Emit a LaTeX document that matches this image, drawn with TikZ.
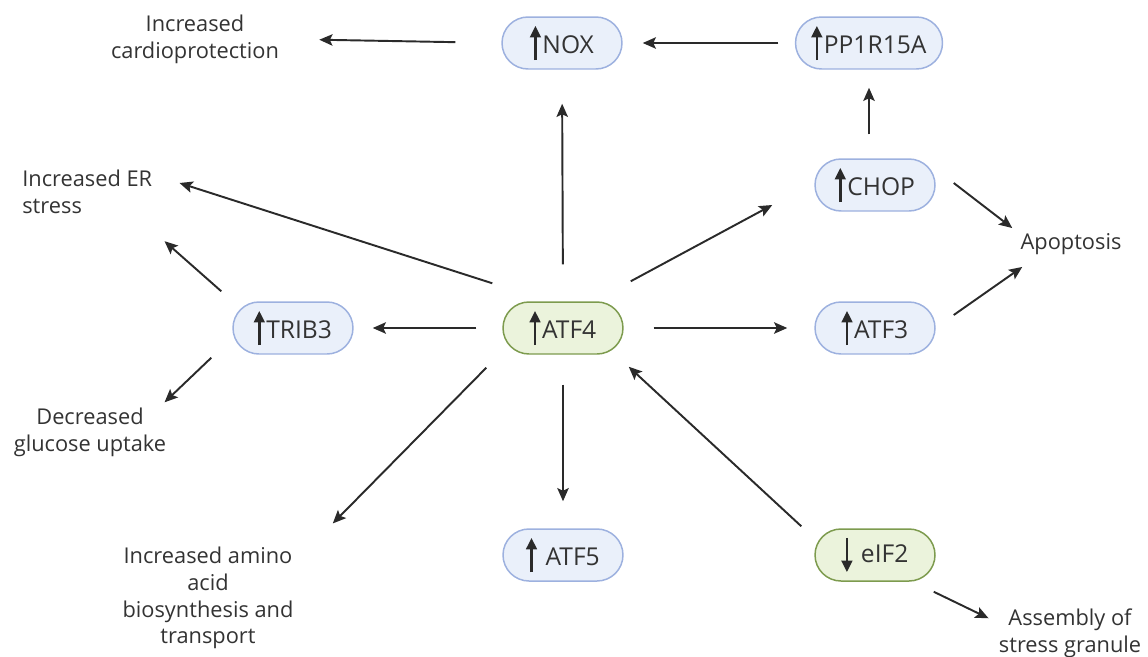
\documentclass[tikz,border=0pt]{standalone}
\usepackage{fontspec}
\setmainfont{Open Sans}
\usetikzlibrary{arrows.meta, calc}
\definecolor{gnblue}{HTML}{EAF0FA}
\definecolor{gnblueline}{HTML}{9DB1DF}
\definecolor{gngreen}{HTML}{EBF3DC}
\definecolor{gngreenline}{HTML}{7D9B4E}
\definecolor{gntext}{HTML}{333333}
\definecolor{gnarrow}{HTML}{2A2A2A}

% small up/down marks inside the gene boxes
\newcommand{\upar}{\tikz[baseline=0pt]\draw[gnarrow, line width=1.5pt, -{Triangle[length=6.5pt,width=6pt]}] (0,-4pt) -- (0,15.5pt);\kern1pt}
\newcommand{\dnar}{\tikz[baseline=0pt]\draw[gnarrow, line width=1.5pt, -{Triangle[length=6.5pt,width=6pt]}] (0,14pt) -- (0,-5.5pt);}

\begin{document}
\begin{tikzpicture}[x=0.02cm, y=-0.02cm,
  gene/.style={draw=gnblueline, fill=gnblue, line width=0.85pt, rounded corners=0.52cm,
    minimum width=2.4cm, minimum height=1.04cm, inner sep=0pt, text=gntext,
    font=\fontsize{14}{16}\selectfont},
  genegreen/.style={gene, draw=gngreenline, fill=gngreen},
  lbl/.style={inner sep=0pt, text=gntext, align=center, font=\fontsize{12.4}{15.3}\selectfont},
  arr/.style={draw=gnarrow, line width=1.1pt, -{Stealth[length=7.5pt,width=6.5pt,inset=1.5pt]}}]
\useasboundingbox (0,0) rectangle (1148,656);

% Genes
\node[gene] (nox) at (562,43) {\upar NOX};
\node[gene, minimum width=2.94cm] (pp) at (869,43) {\upar PP1R15A};
\node[gene] (chop) at (875,185) {\upar CHOP};
\node[genegreen] (atf4) at (563,328) {\upar ATF4};
\node[gene] (trib3) at (293,328) {\upar TRIB3};
\node[gene] (atf3) at (875,328) {\upar ATF3};
\node[gene] (atf5) at (563,555) {\upar\hspace{4pt}ATF5};
\node[genegreen] (eif2) at (875,555) {\dnar\hspace{5pt}eIF2};

% Outcomes
\node[lbl] (cardio) at (195,39) {Increased\\cardioprotection};
\node[lbl, align=left, anchor=west] (er) at (22,192) {Increased ER\\stress};
\node[lbl] (apop) at (1071,244) {Apoptosis};
\node[lbl] (gluc) at (90,432) {Decreased\\glucose uptake};
\node[lbl] (amino) at (208,598) {Increased amino\\acid\\biosynthesis and\\transport};
\node[lbl] (assem) at (1070,633) {Assembly of\\stress granule};

% ATF4 targets
\draw[arr, shorten <=0.74cm, shorten >=0.68cm] (atf4.north) -- (nox.south);
\draw[arr, shorten <=0.52cm, shorten >=0.38cm] (atf4.west) -- (trib3.east);
\draw[arr, shorten <=0.6cm, shorten >=0.54cm] (atf4.east) -- (atf3.west);
\draw[arr, shorten <=0.6cm, shorten >=0.54cm] (atf4.south) -- (atf5.north);
\draw[arr] ($(atf4.north east)+(7,-20)$) -- ($(chop.west)+(-42,20)$);
\draw[arr] ($(atf4.north west)+(-10,-18)$) -- ($(er.east)+(27,-9)$);
\draw[arr] ($(atf4.south west)+(-16,13)$) -- ($(amino.north east)+(39,-23)$);

% Top row
\draw[arr, shorten <=0.92cm, shorten >=0.8cm] (nox.west) -- (cardio.east);
\draw[arr, shorten <=0.33cm, shorten >=0.4cm] (pp.west) -- (nox.east);
\draw[arr, shorten <=0.48cm, shorten >=0.36cm] (pp |- chop.north) -- (pp.south);

% Apoptosis
\draw[arr] ($(chop.east)+(18,-2)$) -- ($(apop.north west)+(-8,-5)$);
\draw[arr] ($(atf3.east)+(18,-13)$) -- ($(apop.south west)+(2,12)$);

% TRIB3
\draw[arr] ($(trib3.north west)+(-11,-10)$) -- ($(er.south east)+(12,27)$);
\draw[arr] ($(trib3.south west)+(-21,3)$) -- ($(gluc.north east)+(-2,-5)$);

% eIF2
\draw[arr] ($(eif2.north west)+(-13,-2)$) -- ($(atf4.south east)+(5,12)$);
\draw[arr] ($(eif2.south east)+(-2,10)$) -- ($(assem.north west)+(-10,10)$);

\end{tikzpicture}
\end{document}
